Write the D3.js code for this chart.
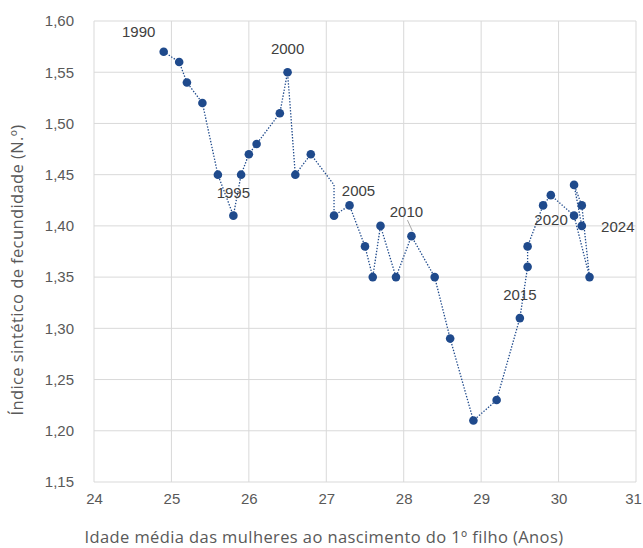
<!DOCTYPE html>
<html>
<head>
<meta charset="utf-8">
<script src="https://cdn.jsdelivr.net/npm/d3@7"></script>
<style>
  body { margin: 0; background: #fff; }
  svg { display: block; }
</style>
</head>
<body>
<svg id="chart" width="643" height="548"></svg>
<script>
// Portugal: mean age of women at first birth vs. total fertility rate, 1990-2024
const years = [1990, 1991, 1992, 1993, 1994, 1995, 1996, 1997, 1998, 1999,
               2000, 2001, 2002, 2003, 2004, 2005, 2006, 2007, 2008, 2009,
               2010, 2011, 2012, 2013, 2014, 2015, 2016, 2017, 2018, 2019,
               2020, 2021, 2022, 2023, 2024];
const meanAge = [24.9, 25.1, 25.2, 25.4, 25.6, 25.8, 25.9, 26.0, 26.1, 26.4,
                 26.5, 26.6, 26.8, 27.1, 27.1, 27.3, 27.5, 27.6, 27.7, 27.9,
                 28.1, 28.4, 28.6, 28.9, 29.2, 29.5, 29.6, 29.6, 29.8, 29.9,
                 30.2, 30.4, 30.3, 30.2, 30.3];
const fertility = [1.57, 1.56, 1.54, 1.52, 1.45, 1.41, 1.45, 1.47, 1.48, 1.51,
                   1.55, 1.45, 1.47, 1.44, 1.41, 1.42, 1.38, 1.35, 1.40, 1.35,
                   1.39, 1.35, 1.29, 1.21, 1.23, 1.31, 1.36, 1.38, 1.42, 1.43,
                   1.41, 1.35, 1.42, 1.44, 1.40];
// years drawn without a marker in the original
const noMarker = [2003];
const labelledYears = [1990, 1995, 2000, 2005, 2010, 2015, 2020, 2024];
const xTicks = [24, 25, 26, 27, 28, 29, 30, 31];
const yTicks = [1.15, 1.20, 1.25, 1.30, 1.35, 1.40, 1.45, 1.50, 1.55, 1.60];

const xTitle = "Idade média das mulheres ao nascimento do 1º filho (Anos)";
const yTitle = "Índice sintético de fecundidade (N.º)";

const data = years.map((y, i) => ({year: y, age: meanAge[i], tfr: fertility[i]}));

const width = 643, height = 548;
const margin = {top: 21, right: 7, bottom: 66, left: 94};
const blue = "#1f4a8c";
const tickFont = "'Liberation Sans', Arial, sans-serif";
const titleFont = "'Open Sans', 'Noto Sans', sans-serif";

const svg = d3.select("#chart");

const x = d3.scaleLinear()
    .domain([24, 31])
    .range([margin.left, width - margin.right]);

const y = d3.scaleLinear()
    .domain([1.15, 1.60])
    .range([height - margin.bottom, margin.top]);

// gridlines
const grid = svg.append("g");
grid.selectAll(".vgrid")
    .data(xTicks)
    .join("line")
    .attr("x1", d => x(d)).attr("x2", d => x(d))
    .attr("y1", y(1.60)).attr("y2", y(1.15))
    .attr("stroke", "#d9d9d9").attr("stroke-width", 1);
grid.selectAll(".hgrid")
    .data(yTicks)
    .join("line")
    .attr("x1", x(24)).attr("x2", x(31))
    .attr("y1", d => y(d)).attr("y2", d => y(d))
    .attr("stroke", "#d9d9d9").attr("stroke-width", 1);

// Y axis labels
const yAxis = svg.append("g")
    .attr("transform", "translate(" + (margin.left - 17) + ",0)")
    .call(d3.axisLeft(y).tickValues(yTicks).tickSize(0)
        .tickFormat(d => d3.format(".2f")(d).replace(".", ",")));
yAxis.select(".domain").remove();
yAxis.selectAll("text")
    .attr("font-family", tickFont).attr("font-size", "15px").attr("fill", "#595959");

// X axis labels
const xAxis = svg.append("g")
    .attr("transform", "translate(0," + (height - margin.bottom) + ")")
    .call(d3.axisBottom(x).tickValues(xTicks).tickSize(0).tickPadding(11)
        .tickFormat(d3.format("d")));
xAxis.select(".domain").remove();
xAxis.selectAll("text")
    .attr("font-family", tickFont).attr("font-size", "15px").attr("fill", "#595959");
// keep the last label inside the picture
xAxis.selectAll("text").filter(d => d === 31).attr("x", -3);

// dotted connecting line
svg.append("path")
    .datum(data)
    .attr("fill", "none")
    .attr("stroke", blue)
    .attr("stroke-width", 1.3)
    .attr("stroke-dasharray", "1.4,1.6")
    .attr("d", d3.line().x(d => x(d.age)).y(d => y(d.tfr)));

// markers
svg.append("g")
    .selectAll("circle")
    .data(data.filter(d => !noMarker.includes(d.year)))
    .join("circle")
    .attr("cx", d => x(d.age))
    .attr("cy", d => y(d.tfr))
    .attr("r", 4.3)
    .attr("fill", blue);

// data labels (offsets in px relative to the point)
const labelOffset = {
    1990: [-25, -20], 1995: [0, -23], 2000: [0, -23], 2005: [9, -15],
    2010: [-5, -24], 2015: [0, -23], 2020: [-23, 4], 2024: [36, 1]
};
const labelled = data.filter(d => labelledYears.includes(d.year));

// leader line for 2010
const d2010 = data.find(d => d.year === 2010);
svg.append("line")
    .attr("x1", x(d2010.age) - 4).attr("y1", y(d2010.tfr) - 16)
    .attr("x2", x(d2010.age) + 1).attr("y2", y(d2010.tfr) - 5)
    .attr("stroke", "#a6a6a6").attr("stroke-width", 1);

svg.append("g")
    .selectAll("text")
    .data(labelled)
    .join("text")
    .attr("x", d => x(d.age) + labelOffset[d.year][0])
    .attr("y", d => y(d.tfr) + labelOffset[d.year][1])
    .attr("dy", "0.35em")
    .attr("text-anchor", "middle")
    .attr("font-family", tickFont)
    .attr("font-size", "15px")
    .attr("fill", "#404040")
    .text(d => d.year);

// axis titles
svg.append("text")
    .attr("x", 324)
    .attr("y", 543)
    .attr("text-anchor", "middle")
    .attr("font-family", titleFont)
    .attr("font-size", "16.5px")
    .attr("letter-spacing", "0.4px")
    .attr("fill", "#595959")
    .text(xTitle);

svg.append("text")
    .attr("transform", "translate(23,270) rotate(-90)")
    .attr("text-anchor", "middle")
    .attr("font-family", titleFont)
    .attr("font-size", "16.5px")
    .attr("letter-spacing", "0.4px")
    .attr("fill", "#595959")
    .text(yTitle);
</script>
</body>
</html>
